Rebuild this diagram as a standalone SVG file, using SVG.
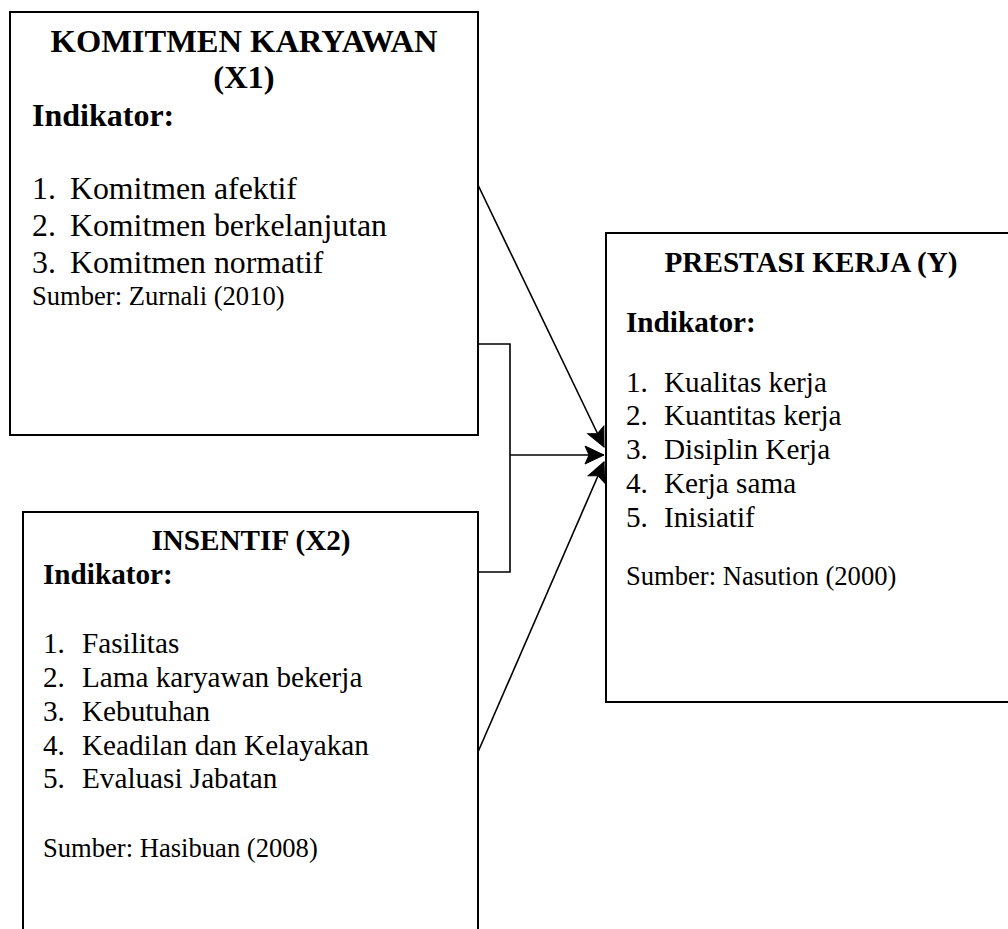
<svg xmlns="http://www.w3.org/2000/svg" width="1008" height="929" viewBox="0 0 1008 929">
<style>
.box{fill:#fff;stroke:#000;stroke-width:2}
.t{font-family:"Liberation Serif","Times New Roman",serif;fill:#000}
.b{font-weight:bold}
.c{text-anchor:middle}
.con{fill:none;stroke:#000;stroke-width:1.6}
</style>
<defs>
<marker id="ah" markerUnits="userSpaceOnUse" markerWidth="22" markerHeight="22" refX="19" refY="11" viewBox="0 0 22 22" orient="auto" overflow="visible">
<path d="M19,11 L0,2 L4,11 L0,20 Z" fill="#000" stroke="#000" stroke-width="1" stroke-linejoin="miter"/>
</marker>
</defs>
<rect width="1008" height="929" fill="#fff"/>
<g id="connectors">
<polyline class="con" points="478,344 510,344 510,572 478,572"/>
<line class="con" x1="510" y1="455" x2="604" y2="455" marker-end="url(#ah)"/>
<line class="con" x1="478" y1="185" x2="604" y2="447" marker-end="url(#ah)"/>
<line class="con" x1="478" y1="752" x2="604" y2="462" marker-end="url(#ah)"/>
</g>
<g id="node-x1">
<rect class="box" x="10" y="12" width="468" height="423"/>
<text class="t b c" x="244" y="52" font-size="32.5">KOMITMEN KARYAWAN</text>
<text class="t b c" x="244" y="88" font-size="32.5">(X1)</text>
<text class="t b" x="32" y="126" font-size="32">Indikator:</text>
<g class="t" font-size="31.8">
<text x="32" y="199">1.</text><text x="70" y="199">Komitmen afektif</text>
<text x="32" y="236">2.</text><text x="70" y="236">Komitmen berkelanjutan</text>
<text x="32" y="273">3.</text><text x="70" y="273">Komitmen normatif</text>
</g>
<text class="t" x="32" y="305" font-size="26.6">Sumber: Zurnali (2010)</text>
</g>
<g id="node-x2">
<rect class="box" x="23" y="512" width="455" height="430"/>
<text class="t b c" x="251" y="550" font-size="29.2">INSENTIF (X2)</text>
<text class="t b" x="43" y="584" font-size="29.2">Indikator:</text>
<g class="t" font-size="29.2">
<text x="43" y="653">1.</text><text x="82" y="653">Fasilitas</text>
<text x="43" y="687">2.</text><text x="82" y="687">Lama karyawan bekerja</text>
<text x="43" y="721">3.</text><text x="82" y="721">Kebutuhan</text>
<text x="43" y="755">4.</text><text x="82" y="755">Keadilan dan Kelayakan</text>
<text x="43" y="788">5.</text><text x="82" y="788">Evaluasi Jabatan</text>
</g>
<text class="t" x="43" y="857" font-size="26.6">Sumber: Hasibuan (2008)</text>
</g>
<g id="node-y">
<rect class="box" x="606" y="233" width="420" height="469"/>
<text class="t b c" x="811" y="272" font-size="29.2">PRESTASI KERJA (Y)</text>
<text class="t b" x="626" y="332" font-size="29.2">Indikator:</text>
<g class="t" font-size="29.2">
<text x="626" y="392">1.</text><text x="664" y="392">Kualitas kerja</text>
<text x="626" y="425">2.</text><text x="664" y="425">Kuantitas kerja</text>
<text x="626" y="459">3.</text><text x="664" y="459">Disiplin Kerja</text>
<text x="626" y="493">4.</text><text x="664" y="493">Kerja sama</text>
<text x="626" y="527">5.</text><text x="664" y="527">Inisiatif</text>
</g>
<text class="t" x="626" y="585" font-size="26.6">Sumber: Nasution (2000)</text>
</g>
</svg>
